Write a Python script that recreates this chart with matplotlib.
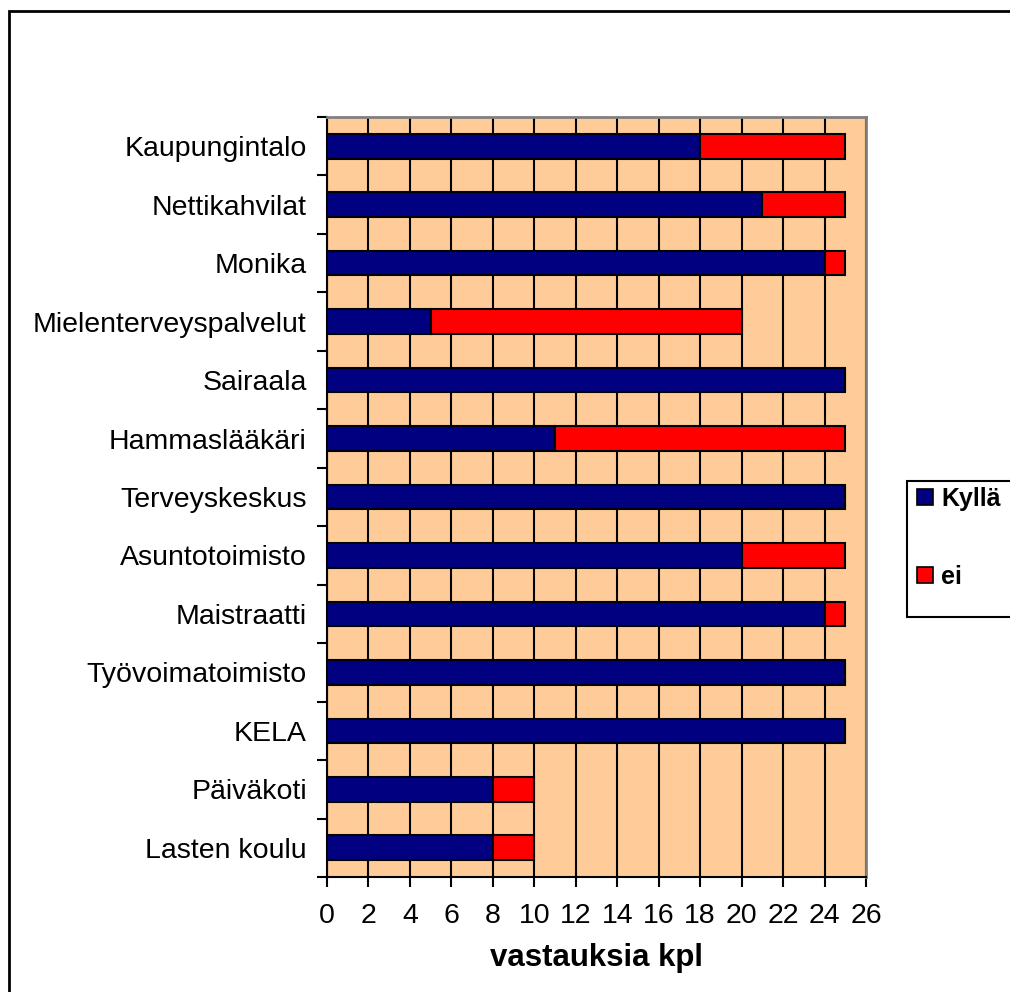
import matplotlib
matplotlib.use("Agg")
import matplotlib.pyplot as plt
from matplotlib.patches import Rectangle
from matplotlib.lines import Line2D
import numpy as np

categories = ["Kaupungintalo", "Nettikahvilat", "Monika", "Mielenterveyspalvelut",
              "Sairaala", "Hammaslääkäri", "Terveyskeskus", "Asuntotoimisto",
              "Maistraatti", "Työvoimatoimisto", "KELA", "Päiväkoti", "Lasten koulu"]
kylla = [18, 21, 24, 5, 25, 11, 25, 20, 24, 25, 25, 8, 8]
ei = [7, 4, 1, 15, 0, 14, 0, 5, 1, 0, 0, 2, 2]
series_names = ["Kyllä", "ei"]
xticks = list(range(0, 27, 2))

plt.rcParams['font.family'] = ['Liberation Sans', 'DejaVu Sans']

W, H = 1010, 992
fig = plt.figure(figsize=(W / 100, H / 100), dpi=100)

# outer chart border
fig.patches.append(Rectangle((9 / W, -0.05), 1.2, 1 - 11 / H + 0.05, transform=fig.transFigure,
                             fill=False, edgecolor='black', linewidth=2))

x0, x1 = 327, 866
y0, y1 = 117, 877
ax = fig.add_axes([x0 / W, 1 - y1 / H, (x1 - x0) / W, (y1 - y0) / H])
ax.set_facecolor('#FFCC99')

n = len(categories)
pos = np.arange(n)[::-1]
bh = 0.42
ax.barh(pos, kylla, height=bh, color='#000080', edgecolor='black', linewidth=1.5, zorder=3,
        label=series_names[0])
ax.barh(pos, ei, left=kylla, height=bh, color='#FF0000', edgecolor='black', linewidth=1.5, zorder=3,
        label=series_names[1])

ax.set_xlim(0, 26)
ax.set_ylim(-0.5, n - 0.5)
ax.set_xticks(xticks)
ax.set_xticklabels([str(t) for t in xticks], fontsize=20.5)
ax.xaxis.grid(True, color='black', linewidth=1.5, zorder=1)
ax.set_axisbelow(True)

ax.set_yticks(pos)
ax.set_yticklabels(categories, fontsize=20.5)
ax.tick_params(axis='y', which='major', length=0, pad=14.5)
ax.set_yticks(np.arange(-0.5, n, 1.0), minor=True)
ax.tick_params(axis='y', which='minor', length=7, width=1.5, direction='out')
ax.tick_params(axis='x', length=7, width=1.5, direction='out', pad=12)

for s in ['left', 'bottom']:
    ax.spines[s].set_color('black')
    ax.spines[s].set_linewidth(1.5)
for s in ['top', 'right']:
    ax.spines[s].set_color('#808080')
    ax.spines[s].set_linewidth(2)

ax.set_xlabel("vastauksia kpl", fontsize=22.5, fontweight='bold', labelpad=10)

# legend box
fig.patches.append(Rectangle((907 / W, 1 - 617 / H), 0.2, (617 - 481) / H,
                             transform=fig.transFigure, fill=True, facecolor='white',
                             edgecolor='black', linewidth=1.5, zorder=5))
handles = [Line2D([], [], marker='s', linestyle='none', markersize=11.5,
                  markerfacecolor='#000080', markeredgecolor='black', markeredgewidth=1.2),
           Line2D([], [], marker='s', linestyle='none', markersize=11.5,
                  markerfacecolor='#FF0000', markeredgecolor='black', markeredgewidth=1.2)]
leg = fig.legend(handles, series_names, loc='center left', bbox_to_anchor=(906 / W, 1 - 538 / H),
                 frameon=False, prop={'size': 18, 'weight': 'bold'}, handlelength=0.7,
                 handletextpad=0.3, labelspacing=2.15, borderaxespad=0)
leg.set_zorder(6)

fig.savefig("out.png", dpi=100)
